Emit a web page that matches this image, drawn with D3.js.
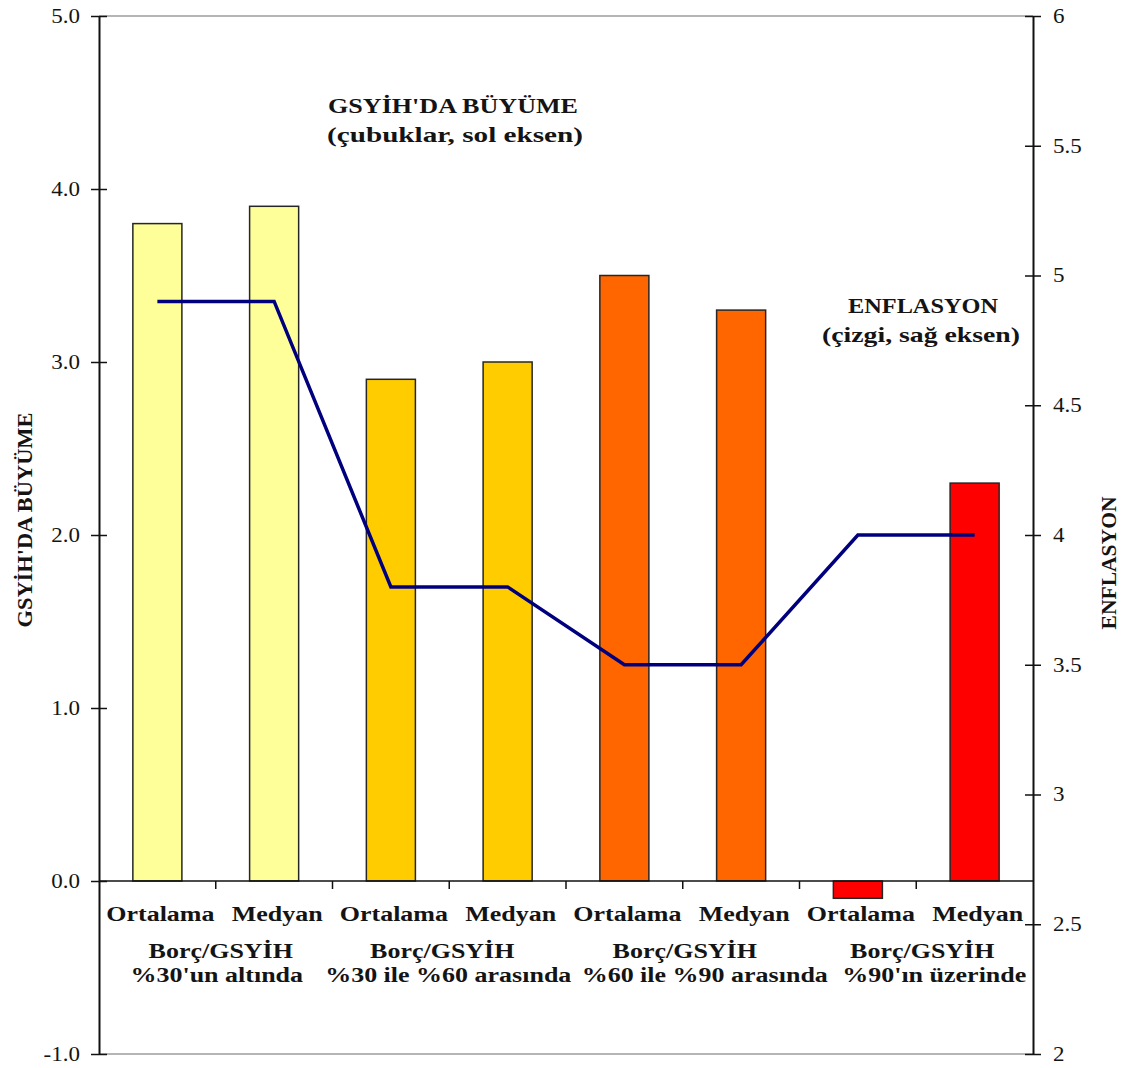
<!DOCTYPE html>
<html>
<head>
<meta charset="utf-8">
<script src="https://cdn.jsdelivr.net/npm/d3@7"></script>
<style>
  html, body { margin: 0; padding: 0; background: #fff; }
  svg text { font-family: "Liberation Serif", "Times New Roman", serif; fill: #141414; }
</style>
</head>
<body>
<svg id="chart" width="1122" height="1068"></svg>
<script>
// Categories (statistic per debt/GDP group)
const categories = ["Ortalama", "Medyan", "Ortalama", "Medyan", "Ortalama", "Medyan", "Ortalama", "Medyan"];
const groupLines1 = ["Borç/GSYİH", "Borç/GSYİH", "Borç/GSYİH", "Borç/GSYİH"];
const groupLines2 = ["%30'un altında", "%30 ile %60 arasında", "%60 ile %90 arasında", "%90'ın üzerinde"];
// GDP growth (bars, left axis)
const growth = [3.8, 3.9, 2.9, 3.0, 3.5, 3.3, -0.1, 2.3];
// Inflation (line, right axis)
const inflation = [4.9, 4.9, 3.8, 3.8, 3.5, 3.5, 4.0, 4.0];
// Bar fill per debt group
const groupColors = ["#FFFF99", "#FFCC00", "#FF6600", "#FF0000"];
// Tick values
const leftTicks = [-1, 0, 1, 2, 3, 4, 5];
const rightTicks = [2, 2.5, 3, 3.5, 4, 4.5, 5, 5.5, 6];

const svg = d3.select("#chart");
const plotLeft = 99, plotRight = 1033, plotTop = 16, plotBottom = 1054;

const x = d3.scaleBand().domain(d3.range(categories.length)).range([plotLeft, plotRight]);
const yL = d3.scaleLinear().domain([-1, 5]).range([plotBottom, plotTop]);
const yR = d3.scaleLinear().domain([2, 6]).range([plotBottom, plotTop]);

// Text helper: horizontally stretched label, either by factor or to a fixed length
function label(parent, tx, ty, str, opt) {
  const t = parent.append("text")
    .attr("text-anchor", "middle")
    .attr("font-size", opt.size)
    .attr("font-weight", opt.weight || "bold")
    .text(str);
  if (opt.length) {
    t.attr("x", tx).attr("y", ty)
     .attr("textLength", opt.length).attr("lengthAdjust", "spacingAndGlyphs");
  } else {
    t.attr("transform", `translate(${tx},${ty}) scale(${opt.stretch || 1},1)`);
  }
  return t;
}

// Top and bottom frame lines
[plotTop, plotBottom].forEach(yy =>
  svg.append("line").attr("x1", plotLeft).attr("x2", plotRight).attr("y1", yy).attr("y2", yy)
    .attr("stroke", "#b5b5b5").attr("stroke-width", 2));

// Bars
const barW = x.bandwidth() * 0.42;
svg.append("g").selectAll("rect").data(growth).join("rect")
  .attr("x", (d, i) => x(i) + (x.bandwidth() - barW) / 2)
  .attr("width", barW)
  .attr("y", d => yL(Math.max(0, d)))
  .attr("height", d => Math.abs(yL(d) - yL(0)))
  .attr("fill", (d, i) => groupColors[Math.floor(i / 2)])
  .attr("stroke", "#262626").attr("stroke-width", 1.5);

// Zero baseline with category separators
svg.append("line").attr("x1", plotLeft).attr("x2", plotRight).attr("y1", yL(0)).attr("y2", yL(0))
  .attr("stroke", "#111").attr("stroke-width", 1.5);
svg.append("g").selectAll("line").data(d3.range(1, categories.length)).join("line")
  .attr("x1", i => x(i)).attr("x2", i => x(i))
  .attr("y1", yL(0)).attr("y2", yL(0) + 8)
  .attr("stroke", "#111").attr("stroke-width", 1.5);

// Left axis
const axL = d3.axisLeft(yL).tickValues(leftTicks).tickFormat(d => d.toFixed(1)).tickSizeOuter(0);
const gL = svg.append("g").attr("transform", `translate(${plotLeft},0)`).call(axL);
gL.select(".domain").attr("stroke", "#111").attr("stroke-width", 2);
gL.selectAll(".tick line").attr("stroke", "#111").attr("stroke-width", 1.5).attr("x1", -8).attr("x2", 8);
gL.selectAll(".tick text").attr("x", null).attr("font-size", 20).attr("font-family", null).attr("fill", null)
  .attr("transform", "translate(-19,0) scale(1.15,1)");

// Right axis
const axR = d3.axisRight(yR).tickValues(rightTicks).tickFormat(d => String(d)).tickSizeOuter(0);
const gR = svg.append("g").attr("transform", `translate(${plotRight},0)`).call(axR);
gR.select(".domain").attr("stroke", "#111").attr("stroke-width", 2);
gR.selectAll(".tick line").attr("stroke", "#111").attr("stroke-width", 1.5).attr("x1", -8).attr("x2", 8);
gR.selectAll(".tick text").attr("x", null).attr("font-size", 20).attr("font-family", null).attr("fill", null)
  .attr("transform", "translate(20,0) scale(1.15,1)");

// Inflation line
const line = d3.line().x((d, i) => x(i) + x.bandwidth() / 2).y(d => yR(d));
svg.append("path").datum(inflation).attr("d", line)
  .attr("fill", "none").attr("stroke", "#00007F").attr("stroke-width", 3.5).attr("stroke-linejoin", "miter");

// Category labels under the zero line
const gCat = svg.append("g");
categories.forEach((c, i) => label(gCat, x(i) + x.bandwidth() / 2 + 3, 921, c, { size: 20, stretch: 1.3 }));
const line1Shift = [5, -7, 2, 6];
const line2Shift = [1, -1, 22, 18];
groupLines1.forEach((c, i) => label(gCat, x(i * 2 + 1) + line1Shift[i], 958, c, { size: 20, stretch: 1.3 }));
groupLines2.forEach((c, i) => label(gCat, x(i * 2 + 1) + line2Shift[i], 982, c, { size: 20, stretch: 1.3 }));

// Series annotations
label(svg, 453, 113, "GSYİH'DA BÜYÜME", { size: 22, length: 250 });
label(svg, 455, 142, "(çubuklar, sol eksen)", { size: 22, length: 256 });
label(svg, 923, 313, "ENFLASYON", { size: 21, length: 150 });
label(svg, 921, 342, "(çizgi, sağ eksen)", { size: 21, length: 198 });

// Axis titles
svg.append("text").attr("transform", "translate(32,520) rotate(-90)")
  .attr("text-anchor", "middle").attr("font-size", 20).attr("font-weight", "bold")
  .attr("textLength", 215).attr("lengthAdjust", "spacingAndGlyphs").text("GSYİH'DA BÜYÜME");
svg.append("text").attr("transform", "translate(1116,563) rotate(-90)")
  .attr("text-anchor", "middle").attr("font-size", 20).attr("font-weight", "bold")
  .attr("textLength", 133).attr("lengthAdjust", "spacingAndGlyphs").text("ENFLASYON");
</script>
</body>
</html>
